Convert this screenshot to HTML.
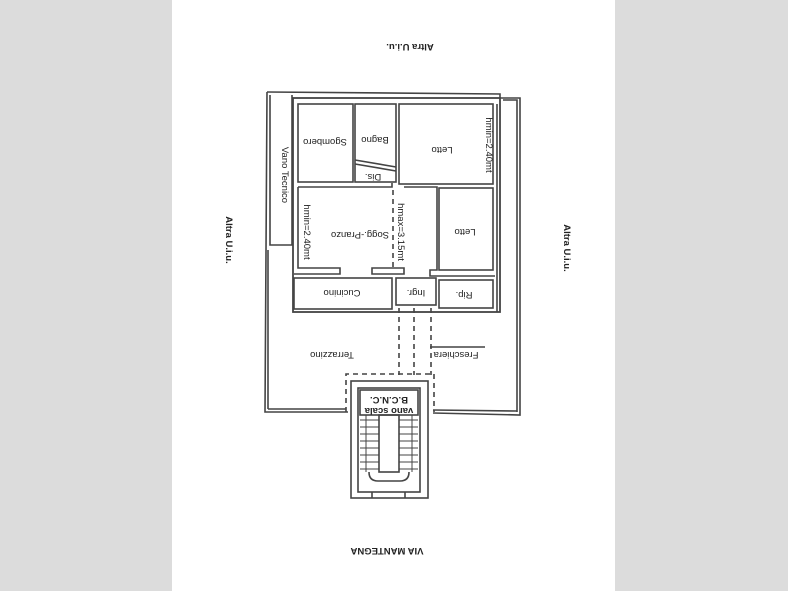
<!DOCTYPE html>
<html><head><style>
html,body{margin:0;padding:0;background:#dcdcdc;}
svg{display:block}
text{font-family:"Liberation Sans",sans-serif;fill:#222}
</style></head><body>
<svg width="788" height="591" viewBox="0 0 788 591" xmlns="http://www.w3.org/2000/svg">
<rect x="0" y="0" width="788" height="591" fill="#dcdcdc"/>
<rect x="172" y="0" width="443" height="591" fill="#fff"/>
<g fill="none" stroke="#444" stroke-width="1.6">
<path d="M267 92 L500 94 L500 98 L520 98 L520 415 L433 413"/>
<path d="M267 92 L265 412 L348 412"/>
<path d="M270 95 L270 245 L292 245 L292 95"/>
<path d="M503 100 L517 100 L517 412"/>
<path d="M268 409 L346 409"/><path d="M433 410 L517 411"/>
<path d="M268 250 L268 409"/>
<rect x="293" y="98" width="207" height="214" stroke-width="1.8"/>
<rect x="298" y="104" width="55" height="78"/>
<rect x="355" y="104" width="41" height="78"/>
<path d="M355 160 L396 167"/><path d="M355 164 L396 171"/>
<rect x="399" y="104" width="94" height="80"/>
<path d="M298 187 L392 187 L392 183"/>
<path d="M298 187 L298 268 L340 268 L340 274 L294 274"/>
<path d="M372 268 L404 268 L404 274 L372 274 Z"/>
<path d="M404 187 L437 187 L437 270 L430 270 L430 276 L495 276"/>
<rect x="439" y="188" width="54" height="82"/>
<rect x="294" y="278" width="98" height="31"/>
<rect x="396" y="278" width="40" height="27"/>
<rect x="439" y="280" width="54" height="28"/>
<path d="M497 104 L497 312"/>
<g stroke-dasharray="5,4">
<path d="M399 308 L399 375"/><path d="M414 308 L414 375"/><path d="M431 308 L431 375"/>
<path d="M346 412 L346 374 L434 374 L434 412"/>
<path d="M393 190 L393 268"/>
</g>
<rect x="351" y="381" width="77" height="117"/>
<rect x="358" y="388" width="62" height="104"/>
<rect x="360" y="390" width="58" height="25"/>
<rect x="379" y="415" width="20" height="57"/>
<path d="M369 472 Q369 481 378 481 L400 481 Q409 481 409 472"/>
<g stroke-width="1">
<path d="M360 420 H379 M360 427 H379 M360 434 H379 M360 441 H379 M360 448 H379 M360 455 H379 M360 462 H379 M360 469 H379"/>
<path d="M399 420 H418 M399 427 H418 M399 434 H418 M399 441 H418 M399 448 H418 M399 455 H418 M399 462 H418 M399 469 H418"/>
<path d="M366 415 V472 M412 415 V472"/>
</g>
<path d="M372 492 L372 498 M405 492 L405 498"/>
<path d="M430 347 L485 347"/>
</g>
<g font-size="9.5">
<text transform="translate(410,44) rotate(180)" text-anchor="middle" font-weight="bold">Altra U.i.u.</text>
<text transform="translate(226,240) rotate(90)" text-anchor="middle" font-weight="bold">Altra U.i.u.</text>
<text transform="translate(564,248) rotate(90)" text-anchor="middle" font-weight="bold">Altra U.i.u.</text>
<text transform="translate(387,548) rotate(180)" text-anchor="middle" font-weight="bold">VIA MANTEGNA</text>
<text transform="translate(325,139) rotate(180)" text-anchor="middle">Sgombero</text>
<text transform="translate(375,137) rotate(180)" text-anchor="middle">Bagno</text>
<text transform="translate(442,147) rotate(180)" text-anchor="middle">Letto</text>
<text transform="translate(373,174) rotate(180)" text-anchor="middle">Dis.</text>
<text transform="translate(486,145) rotate(90)" text-anchor="middle">hmin=2.40mt</text>
<text transform="translate(282,175) rotate(90)" text-anchor="middle">Vano Tecnico</text>
<text transform="translate(304,232) rotate(90)" text-anchor="middle">hmin=2.40mt</text>
<text transform="translate(360,232) rotate(180)" text-anchor="middle">Sogg.-Pranzo</text>
<text transform="translate(398,232) rotate(90)" text-anchor="middle">hmax=3.15mt</text>
<text transform="translate(465,229) rotate(180)" text-anchor="middle">Letto</text>
<text transform="translate(342,290) rotate(180)" text-anchor="middle">Cucinino</text>
<text transform="translate(416,290) rotate(180)" text-anchor="middle">Ingr.</text>
<text transform="translate(464,292) rotate(180)" text-anchor="middle">Rip.</text>
<text transform="translate(332,352) rotate(180)" text-anchor="middle">Terrazzino</text>
<text transform="translate(456,352) rotate(180)" text-anchor="middle">Freschiera</text>
<text transform="translate(389,397) rotate(180)" text-anchor="middle" font-weight="bold">B.C.N.C.</text>
<text transform="translate(389,408) rotate(180)" text-anchor="middle" font-weight="bold">vano scala</text>
</g>
</svg>
</body></html>
